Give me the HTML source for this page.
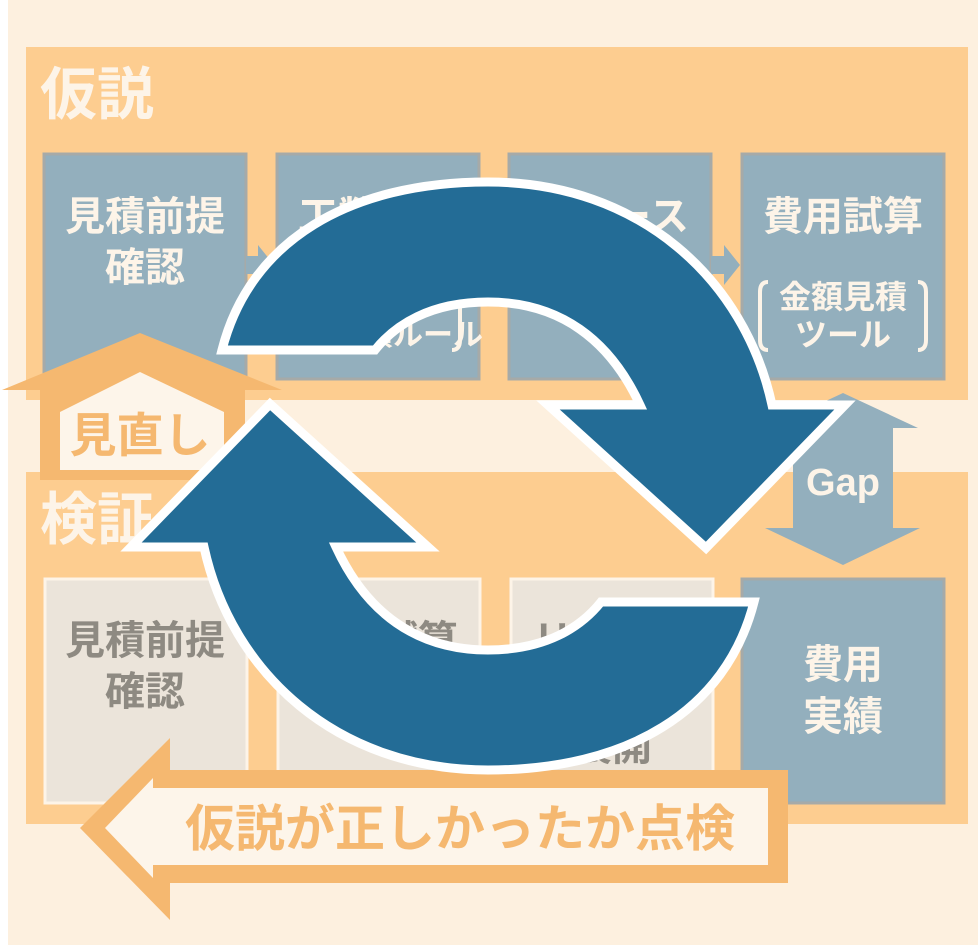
<!DOCTYPE html>
<html><head><meta charset="utf-8"><style>
html,body{margin:0;padding:0;width:978px;height:945px;overflow:hidden;background:#fff}
svg{display:block}
text{font-family:"Liberation Sans","Noto Sans CJK JP",sans-serif;font-weight:bold}
</style></head><body>
<svg width="978" height="945" viewBox="0 0 978 945" xmlns="http://www.w3.org/2000/svg">
<rect x="8" y="0" width="970" height="945" fill="#fdf0df"/>
<rect x="26" y="47" width="942" height="353" fill="#fdcd90"/>
<text x="40" y="114" font-size="57" fill="#fdf4e8">仮説</text>
<g fill="#93afbd" stroke="#a6aaa8" stroke-width="3">
<rect x="44" y="154" width="202" height="225"/>
<rect x="277" y="154" width="202" height="225"/>
<rect x="509" y="154" width="202" height="225"/>
<rect x="742" y="154" width="202" height="225"/>
</g>
<g fill="#93afbd">
<path d="M246 256 H258 V245 L274 265 L258 285 V274 H246Z"/>
<path d="M479 256 H491 V245 L507 265 L491 285 V274 H479Z"/>
<path d="M711 256 H724 V245 L740 265 L724 285 V274 H711Z"/>
</g>
<g fill="#fdf4e8" font-size="40" text-anchor="middle">
<text x="145" y="230">見積前提</text>
<text x="145" y="281">確認</text>
<text x="378" y="230">工数見積</text>
<text x="378" y="345" font-size="30">工数見積ルール</text>
<text x="610" y="230">リソース</text>
<text x="843" y="230">費用試算</text>
<text x="843" y="308" font-size="32">金額見積</text>
<text x="843" y="346" font-size="32">ツール</text>
</g>
<g fill="none" stroke="#fdf4e8" stroke-width="4">
<path d="M768 282 Q760 282 760 292 V340 Q760 350 768 350"/>
<path d="M918 282 Q926 282 926 292 V340 Q926 350 918 350"/>
<path d="M452 282 Q460 282 460 292 V340 Q460 350 452 350"/>
</g>
<rect x="26" y="472" width="942" height="352" fill="#fdcd90"/>
<text x="40" y="539" font-size="57" fill="#fdf4e8">検証</text>
<g fill="#ebe4da" stroke="#fdf4e8" stroke-width="3">
<rect x="45" y="579" width="202" height="224"/>
<rect x="278" y="579" width="202" height="224"/>
<rect x="511" y="579" width="202" height="224"/>
</g>
<rect x="742" y="579" width="202" height="224" fill="#93afbd" stroke="#a6aaa8" stroke-width="3"/>
<g font-size="40" text-anchor="middle">
<text x="145" y="654" fill="#8e8a82">見積前提</text>
<text x="145" y="705" fill="#8e8a82">確認</text>
<text x="378" y="654" fill="#8e8a82">工数試算</text>
<text x="612" y="654" fill="#8e8a82">リソース</text>
<text x="612" y="760" fill="#8e8a82">展開</text>
<text x="843" y="678" fill="#fdf4e8">費用</text>
<text x="843" y="730" fill="#fdf4e8">実績</text>
</g>
<path d="M843 393 L918 428 H893 V528 H920 L843 565 L765 528 H793 V428 H768 Z" fill="#93afbd"/>
<text x="843" y="495" font-size="38" fill="#fdf4e8" text-anchor="middle">Gap</text>
<path d="M140 333 L282 390 H245 V480 H40 V390 H2 Z" fill="#f5b870"/>
<path d="M140 372 L224 412 V470 H60 V412 Z" fill="#fdf5ea"/>
<text x="140" y="452" font-size="47" fill="#f5b870" text-anchor="middle">見直し</text>
<path d="M80 828 L170 738 V770 H788 V883 H170 V920 Z" fill="#f5b870"/>
<path d="M105 828 L153 778 V788 H768 V865 H153 V878 Z" fill="#fdf5ea"/>
<text x="460" y="846" font-size="50" fill="#f5b870" text-anchor="middle">仮説が正しかったか点検</text>
<g fill="#236c96" stroke="#fff" stroke-width="9" stroke-linejoin="miter">
<path d="M222 350 C250 240 350 182 488 182 C640 182 745 280 772 405 L845 405 L706 548 L548 405 L640 405 C610 340 560 302 488 302 C430 302 395 325 375 350 Z"/>
<path transform="rotate(180 488 476)" d="M222 350 C250 240 350 182 488 182 C640 182 745 280 772 405 L845 405 L706 548 L548 405 L640 405 C610 340 560 302 488 302 C430 302 395 325 375 350 Z"/>
</g>
</svg>
</body></html>
